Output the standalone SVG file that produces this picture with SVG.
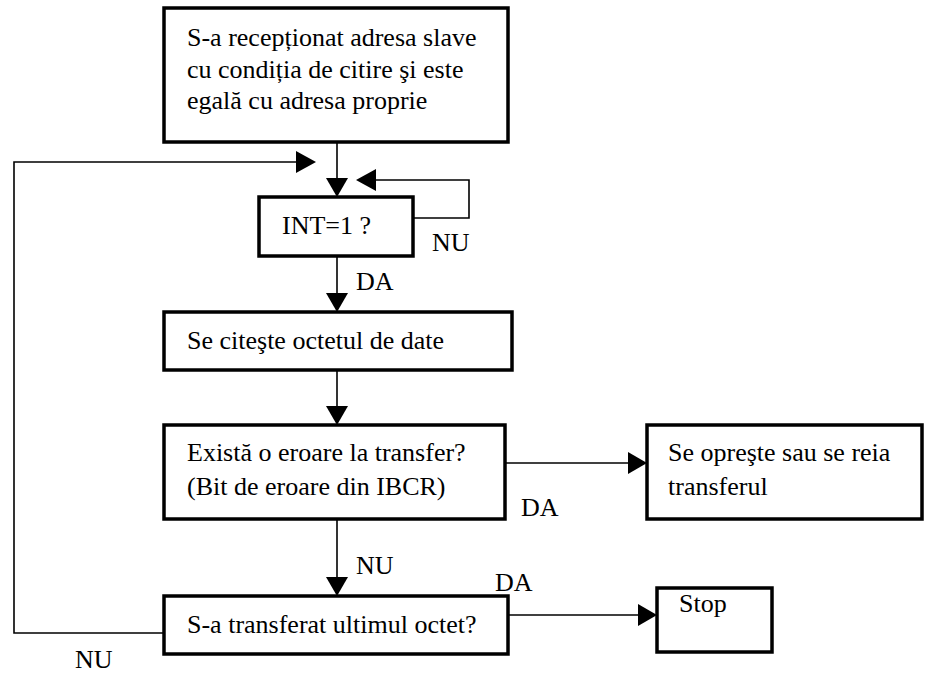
<svg xmlns="http://www.w3.org/2000/svg" width="943" height="673" viewBox="0 0 943 673">
  <style>
    text { font-family: "Liberation Serif", "Times New Roman", serif; font-size: 26px; fill: #000; }
    .box { fill: #fff; stroke: #000; stroke-width: 3.5; }
    .wire { fill: none; stroke: #000; stroke-width: 1.6; }
    .head { fill: #000; stroke: none; }
  </style>

  <!-- connectors -->
  <g id="connectors">
    <!-- start -> INT test -->
    <line class="wire" x1="337" y1="142" x2="337" y2="180"/>
    <polygon class="head" points="326,178 348,178 337,197"/>
    <!-- INT test, NU: loop back -->
    <polyline class="wire" points="413,218 469,218 469,180 374,180"/>
    <polygon class="head" points="376,169 376,191 356,180"/>
    <!-- INT test, DA -> read byte -->
    <line class="wire" x1="337" y1="256" x2="337" y2="295"/>
    <polygon class="head" points="326,293 348,293 337,312"/>
    <!-- read byte -> error test -->
    <line class="wire" x1="337" y1="370" x2="337" y2="408"/>
    <polygon class="head" points="326,406 348,406 337,425"/>
    <!-- error test, DA -> stop / restart -->
    <line class="wire" x1="505" y1="463" x2="630" y2="463"/>
    <polygon class="head" points="628,452 628,474 647,463"/>
    <!-- error test, NU -> last byte test -->
    <line class="wire" x1="337" y1="519" x2="337" y2="579"/>
    <polygon class="head" points="326,577 348,577 337,596"/>
    <!-- last byte test, DA -> Stop -->
    <line class="wire" x1="508" y1="615" x2="640" y2="615"/>
    <polygon class="head" points="638,604 638,626 657,615"/>
    <!-- last byte test, NU: back to the INT test -->
    <polyline class="wire" points="164,633 14,633 14,162 298,162"/>
    <polygon class="head" points="296,151 296,173 316,162"/>
  </g>

  <!-- branch labels -->
  <g id="labels">
    <text x="432" y="251">NU</text>
    <text x="356" y="290">DA</text>
    <text x="521" y="516">DA</text>
    <text x="356" y="574">NU</text>
    <text x="495" y="591">DA</text>
    <text x="75" y="668">NU</text>
  </g>

  <g id="start">
    <rect class="box" x="164" y="8" width="344" height="134"/>
    <text x="187" y="46">S-a recepționat adresa slave</text>
    <text x="187" y="78">cu condiția de citire şi este</text>
    <text x="187" y="109">egală cu adresa proprie</text>
  </g>

  <g id="int-test">
    <rect class="box" x="259" y="197" width="154" height="59"/>
    <text x="282" y="234">INT=1 ?</text>
  </g>

  <g id="read-byte">
    <rect class="box" x="164" y="312" width="348" height="58"/>
    <text x="187" y="349">Se citeşte octetul de date</text>
  </g>

  <g id="error-test">
    <rect class="box" x="164" y="425" width="341" height="94"/>
    <text x="187" y="461">Există o eroare la transfer?</text>
    <text x="187" y="495">(Bit de eroare din IBCR)</text>
  </g>

  <g id="stop-or-restart">
    <rect class="box" x="647" y="425" width="275" height="94"/>
    <text x="668" y="461">Se opreşte sau se reia</text>
    <text x="668" y="495">transferul</text>
  </g>

  <g id="last-byte-test">
    <rect class="box" x="164" y="596" width="344" height="58"/>
    <text x="187" y="633">S-a transferat ultimul octet?</text>
  </g>

  <g id="stop">
    <rect class="box" x="657" y="588" width="115" height="64"/>
    <text x="679" y="612">Stop</text>
  </g>
</svg>
